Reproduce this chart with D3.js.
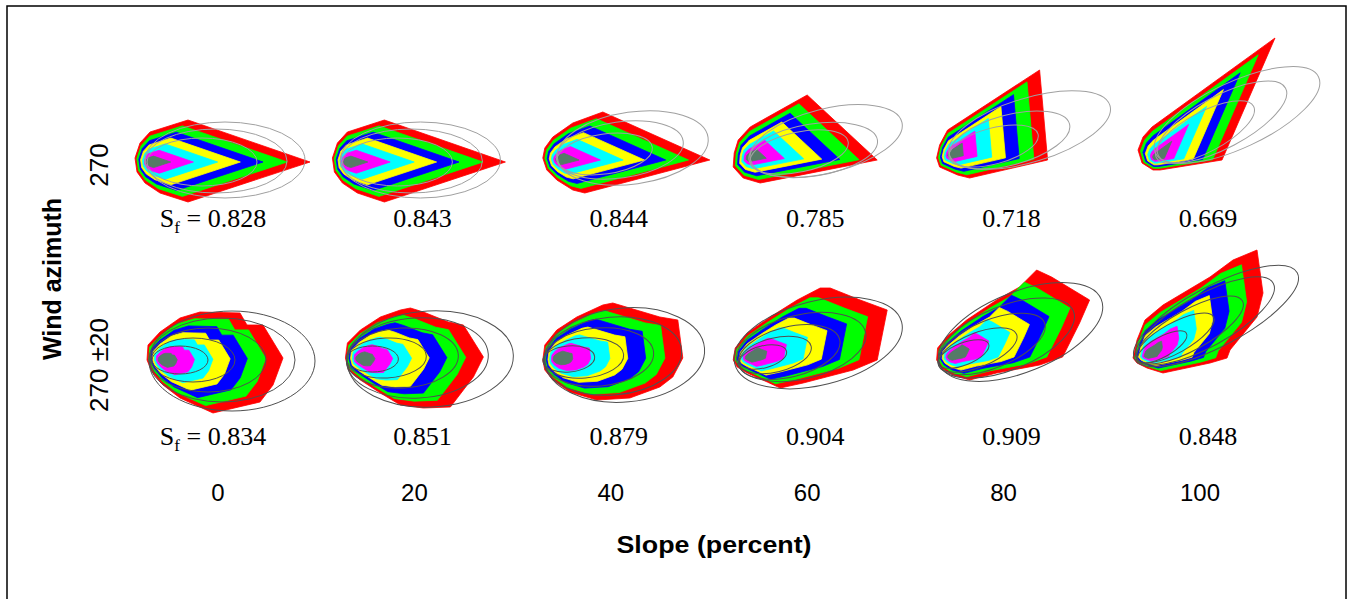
<!DOCTYPE html>
<html>
<head>
<meta charset="utf-8">
<script src="https://cdn.jsdelivr.net/npm/d3@7"></script>
<style>
  body { margin: 0; background: #fff; }
  svg { display: block; }
</style>
</head>
<body>
<div id="chart"></div>
<script>
// slope categories (columns) and wind azimuth cases (rows)
const slopes = [0, 20, 40, 60, 80, 100];
const azimuths = ["270", "270 ±20"];

// shape factor under each panel
const sfRow1 = [0.828, 0.843, 0.844, 0.785, 0.718, 0.669];
const sfRow2 = [0.834, 0.851, 0.879, 0.904, 0.909, 0.848];

// perimeter at successive times as a fraction of the final (red) one
const timeFrac = [1, 0.86, 0.71, 0.57, 0.43, 0.28, 0.14];

// final fire perimeter, spread units relative to the panel anchor
const perimRow1 = [
  [[92,2],[-30,-40],[-68,-28],[-78,-17],[-83,-2],[-81,12],[-73,23],[-58,33],[-30,42]],
  [[91,2],[-30,-40],[-67,-28],[-77,-17],[-82,-2],[-80,12],[-72,23],[-57,33],[-30,42]],
  [[99,0],[-8,-48],[-38,-37],[-58,-23],[-66,-12],[-68,-2],[-64,10],[-54,20],[-38,30],[-26,33]],
  [[0,-65],[70,0],[-47,23],[-64,18],[-74,7],[-73,-7],[-69,-20],[-57,-33],[-50,-37]],
  [[36,-90],[44,0],[-34,18],[-46,15],[-64,7],[-67,-2],[-64,-15],[-56,-30]],
  [[75,-122],[22,0],[-40,10],[-47,10],[-58,3],[-62,-10],[-57,-23],[-48,-33]]
];
const perimRow2 = [
  [[-71,0],[-70,-15],[-58,-28],[-38,-42],[-18,-48],[22,-47],[29,-35],[45,-35],[65,-2],[55,25],[42,42],[-5,53],[-38,38],[-55,25],[-66,12]],
  [[-69,-2],[-67,-17],[-54,-30],[-34,-43],[-14,-50],[-4,-52],[9,-48],[34,-38],[49,-35],[69,-3],[59,17],[49,30],[36,47],[9,48],[-14,45],[-34,33],[-54,20],[-66,10]],
  [[-68,0],[-66,-15],[-54,-30],[-34,-43],[-8,-55],[2,-57],[49,-43],[67,-40],[72,-2],[62,17],[49,27],[19,38],[-14,40],[-41,32],[-58,20],[-66,10]],
  [[-74,0],[-72,-12],[-60,-27],[-37,-43],[-10,-60],[13,-72],[23,-72],[53,-60],[80,-50],[70,0],[46,10],[-4,23],[-27,28],[-40,22],[-60,13],[-70,7]],
  [[-67,0],[-66,-12],[-57,-23],[-37,-40],[-7,-60],[16,-73],[33,-90],[48,-83],[86,-60],[76,-37],[59,-3],[36,5],[-7,13],[-34,20],[-51,15],[-62,8]],
  [[-67,-2],[-63,-20],[-55,-40],[-37,-55],[10,-83],[33,-100],[57,-110],[63,-67],[57,-43],[30,-10],[27,-2],[10,3],[-37,13],[-53,8],[-63,3]]
];

// ignition points (growth centre of the nested perimeters)
const ignitionRow1 = [[-70,2],[-69,2],[-53,0],[-59,-2],[-54,-5],[-45,-2]];
const ignitionRow2 = [[-58,0],[-57,-1],[-56,-1],[-60,-2],[-54,-3],[-54,-4]];

// elliptical reference perimeters: [cx, cy, rx, ry, angle]
const ellipseRow1 = [
  [[7,0,80,38,0],[-2,1,71,32,0],[-16,2,55,24,0]],
  [[6,0,80,38,0],[-3,1,71,32,0],[-17,2,55,24,0]],
  [[22,-12,76,36,-8],[9,-10,64,28,-8],[-6,-6,48,20,-8]],
  [[19,-19,78,32,-14],[6,-10,65,26,-9],[-8,-8,50,20,-12]],
  [[26,-30,84,32,-17],[6,-20,62,25,-15],[-10,-14,46,18,-15]],
  [[37,-45,90,33,-25],[22,-38,72,26,-28],[5,-28,55,20,-28]]
];
const ellipseRow2 = [
  [[14,1,83,50,0],[4,0,73,42,0],[-10,0,58,32,0],[-25,0,42,22,0],[-38,0,28,14,0]],
  [[16,-1,83,48,-3],[3,-2,71,40,-3],[-12,-2,56,30,-3],[-28,-2,40,20,-3],[-42,-1,26,13,0]],
  [[14,-5,80,47,-5],[2,-4,69,39,-5],[-12,-3,55,29,-5],[-27,-2,40,20,-5],[-42,-1,26,13,-5]],
  [[11,-17,86,42,-14],[-6,-13,66,32,-13],[-18,-8,52,25,-14],[-32,-5,37,17,-14],[-44,-3,24,11,-14]],
  [[17,-28,87,40,-22],[3,-22,72,32,-22],[-12,-16,57,24,-22],[-26,-10,42,17,-22],[-40,-6,27,11,-22]],
  [[16,-44,92,30,-28],[5,-39,78,26,-29],[-10,-30,60,20,-29],[-25,-22,44,15,-29],[-38,-13,28,10,-29]]
];

const layerColors = ["#ff0000", "#00ff00", "#0000ff", "#ffff00", "#00ffff", "#ff00ff", "#567a68"];
const ellipseStroke = ["#a0a0a0", "#505050"];

const width = 1352, height = 599;
const sans = "'Liberation Sans', Arial, sans-serif";
const serif = "'Liberation Serif', 'Times New Roman', serif";

const svg = d3.select("#chart").append("svg")
  .attr("width", width)
  .attr("height", height);

svg.append("rect")
  .attr("x", 7).attr("y", 6)
  .attr("width", 1339).attr("height", 610)
  .attr("fill", "#fff")
  .attr("stroke", "#000")
  .attr("stroke-width", 1.5);

const x = d3.scalePoint().domain(slopes).range([218, 1200]);
const y = d3.scalePoint().domain(azimuths).range([160, 360]);
// spread units -> pixels
const u = d3.scaleLinear().domain([0, 100]).range([0, 100]);

const line = d3.line().curve(d3.curveLinearClosed);

const rows = [
  {perim: perimRow1, ign: ignitionRow1, ell: ellipseRow1, sf: sfRow1},
  {perim: perimRow2, ign: ignitionRow2, ell: ellipseRow2, sf: sfRow2}
];

rows.forEach((row, r) => {
  slopes.forEach((s, i) => {
    const g = svg.append("g")
      .attr("transform", "translate(" + x(s) + "," + y(azimuths[r]) + ")");
    const c = row.ign[i];

    g.selectAll("path")
      .data(timeFrac)
      .enter()
      .append("path")
        .attr("fill", (f, k) => layerColors[k])
        .attr("stroke", (f, k) => layerColors[k])
        .attr("stroke-width", 0.8)
        .attr("stroke-linejoin", "round")
        .attr("d", f => line(row.perim[i].map(p =>
          [u(c[0] + (p[0] - c[0]) * f), u(c[1] + (p[1] - c[1]) * f)])));

    g.selectAll("ellipse")
      .data(row.ell[i])
      .enter()
      .append("ellipse")
        .attr("cx", e => u(e[0]))
        .attr("cy", e => u(e[1]))
        .attr("rx", e => u(e[2]) - u(0))
        .attr("ry", e => u(e[3]) - u(0))
        .attr("transform", e => "rotate(" + e[4] + "," + u(e[0]) + "," + u(e[1]) + ")")
        .attr("fill", "none")
        .attr("stroke", ellipseStroke[r])
        .attr("stroke-width", 1);

    // shape factor label
    const t = svg.append("text")
      .attr("x", x(s) + (i === 0 ? -5 : 8))
      .attr("y", y(azimuths[r]) + (r === 0 ? 67 : 85))
      .attr("text-anchor", "middle")
      .attr("font-family", serif)
      .attr("font-size", 26);
    if (i === 0) {
      t.append("tspan").text("S");
      t.append("tspan").attr("font-size", 17).attr("dy", 6).text("f");
      t.append("tspan").attr("dy", -6).text(" = " + d3.format(".3f")(row.sf[i]));
    } else {
      t.text(d3.format(".3f")(row.sf[i]));
    }
  });
});

// row labels
azimuths.forEach(a => {
  svg.append("text")
    .attr("transform", "translate(108," + (y(a) + 5) + ") rotate(-90)")
    .attr("text-anchor", "middle")
    .attr("font-family", sans)
    .attr("font-size", 26)
    .text(a);
});

svg.append("text")
  .attr("transform", "translate(61,279) rotate(-90)")
  .attr("text-anchor", "middle")
  .attr("font-family", sans)
  .attr("font-weight", "bold")
  .attr("font-size", 25)
  .attr("textLength", 162)
  .attr("lengthAdjust", "spacingAndGlyphs")
  .text("Wind azimuth");

// slope tick labels
svg.append("g")
  .selectAll("text")
  .data(slopes)
  .enter()
  .append("text")
    .attr("x", d => x(d))
    .attr("y", 501)
    .attr("text-anchor", "middle")
    .attr("font-family", sans)
    .attr("font-size", 24)
    .text(d => d);

svg.append("text")
  .attr("x", 714)
  .attr("y", 553)
  .attr("text-anchor", "middle")
  .attr("font-family", sans)
  .attr("font-weight", "bold")
  .attr("font-size", 23)
  .attr("textLength", 195)
  .attr("lengthAdjust", "spacingAndGlyphs")
  .text("Slope (percent)");
</script>
</body>
</html>
